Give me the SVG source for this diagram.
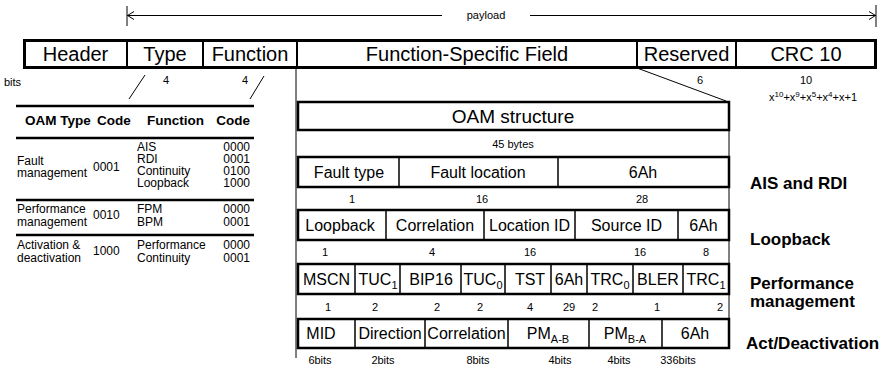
<svg xmlns="http://www.w3.org/2000/svg" width="894" height="366" viewBox="0 0 894 366">
<style>
text{font-family:"Liberation Sans",Arial,sans-serif;fill:#000}
.bar{font-size:20px;text-anchor:middle}
.f{font-size:16px;text-anchor:middle}
.s{font-size:11px;text-anchor:middle}
.t{font-size:12px}
.r{text-anchor:end}
.th{font-size:13.5px;font-weight:bold}
.lbl{font-size:17px;font-weight:bold}
.box{fill:#fff;stroke:#000;stroke-width:2.5}
.dv{stroke:#000;stroke-width:1.5}
.dv2{stroke:#000;stroke-width:2}
.thin{stroke:#000;stroke-width:1;fill:none}
.tl{stroke:#000;stroke-width:2.5}
</style>
<rect width="894" height="366" fill="#fff"/>

<g id="payload">
<line class="thin" x1="127" y1="6" x2="127" y2="26"/>
<line class="thin" x1="876" y1="5" x2="876" y2="27"/>
<line class="thin" x1="127" y1="15.5" x2="442" y2="15.5"/>
<line class="thin" x1="530" y1="15.5" x2="876" y2="15.5"/>
<polyline class="thin" points="134,11.5 127.5,15.5 134,19.5"/>
<polyline class="thin" points="869,11.5 875.5,15.5 869,19.5"/>
<text class="s" x="486" y="19">payload</text>
</g>

<g id="connectors">
<line class="thin" x1="296" y1="68" x2="296" y2="358"/>
<line class="thin" x1="729" y1="101" x2="729" y2="348"/>
<line class="thin" x1="637" y1="68" x2="726" y2="101"/>
<line class="thin" x1="145" y1="75" x2="129" y2="99"/>
<line class="thin" x1="264" y1="76" x2="250" y2="99"/>
</g>

<g id="header-bar">
<rect x="24.5" y="40.5" width="851" height="27" fill="#fff" stroke="#000" stroke-width="3"/>
<line class="dv2" x1="127" y1="40" x2="127" y2="68"/>
<line class="dv2" x1="203" y1="40" x2="203" y2="68"/>
<line class="dv2" x1="297" y1="40" x2="297" y2="68"/>
<line class="dv2" x1="637" y1="40" x2="637" y2="68"/>
<line class="dv2" x1="736" y1="40" x2="736" y2="68"/>
<text class="bar" x="75.5" y="61">Header</text>
<text class="bar" x="165" y="61">Type</text>
<text class="bar" x="250" y="61">Function</text>
<text class="bar" x="467" y="61">Function-Specific Field</text>
<text class="bar" x="686.5" y="61">Reserved</text>
<text class="bar" x="806" y="61">CRC 10</text>
</g>

<g id="bit-sizes">
<text class="s" x="4" y="86" style="text-anchor:start">bits</text>
<text class="s" x="166" y="84">4</text>
<text class="s" x="245" y="84">4</text>
<text class="s" x="700" y="84">6</text>
<text class="s" x="806" y="84">10</text>
<text class="s" x="813" y="101">x<tspan dy="-4" font-size="8">10</tspan><tspan dy="4">+x</tspan><tspan dy="-4" font-size="8">9</tspan><tspan dy="4">+x</tspan><tspan dy="-4" font-size="8">5</tspan><tspan dy="4">+x</tspan><tspan dy="-4" font-size="8">4</tspan><tspan dy="4">+x+1</tspan></text>
</g>

<g id="oam-table">
<line class="tl" x1="16" y1="106" x2="254" y2="106"/>
<text class="th" x="25" y="125">OAM Type</text>
<text class="th" x="97" y="125">Code</text>
<text class="th" x="147" y="125">Function</text>
<text class="th" x="250" y="125" text-anchor="end">Code</text>
<line class="tl" x1="16" y1="138" x2="254" y2="138"/>
<text class="t" x="17" y="165">Fault</text>
<text class="t" x="17" y="177">management</text>
<text class="t" x="93" y="171">0001</text>
<text class="t" x="137" y="151">AIS</text>
<text class="t" x="137" y="163">RDI</text>
<text class="t" x="137" y="175">Continuity</text>
<text class="t" x="137" y="187">Loopback</text>
<text class="t r" x="250" y="151">0000</text>
<text class="t r" x="250" y="163">0001</text>
<text class="t r" x="250" y="175">0100</text>
<text class="t r" x="250" y="187">1000</text>
<line class="tl" x1="16" y1="200" x2="254" y2="200"/>
<text class="t" x="17" y="213">Performance</text>
<text class="t" x="17" y="226">management</text>
<text class="t" x="93" y="219">0010</text>
<text class="t" x="137" y="213">FPM</text>
<text class="t" x="137" y="226">BPM</text>
<text class="t r" x="250" y="213">0000</text>
<text class="t r" x="250" y="226">0001</text>
<line class="tl" x1="16" y1="235" x2="254" y2="235"/>
<text class="t" x="17" y="249">Activation &amp;</text>
<text class="t" x="17" y="262">deactivation</text>
<text class="t" x="93" y="255">1000</text>
<text class="t" x="137" y="249">Performance</text>
<text class="t" x="137" y="262">Continuity</text>
<text class="t r" x="250" y="249">0000</text>
<text class="t r" x="250" y="262">0001</text>
</g>

<g id="oam-structure">
<rect class="box" x="298" y="102" width="431" height="28"/>
<text x="513" y="123" font-size="19" text-anchor="middle">OAM structure</text>
<text class="s" x="513" y="147.5">45 bytes</text>
</g>

<g id="ais-rdi">
<rect class="box" x="298" y="157" width="431" height="30"/>
<line class="dv" x1="399" y1="157" x2="399" y2="187"/>
<line class="dv" x1="558" y1="157" x2="558" y2="187"/>
<text class="f" x="349" y="177.5">Fault type</text>
<text class="f" x="478" y="177.5">Fault location</text>
<text class="f" x="643" y="177.5">6Ah</text>
<text class="s" x="352" y="202.5">1</text>
<text class="s" x="482" y="202.5">16</text>
<text class="s" x="642" y="202.5">28</text>
<text class="lbl" x="750" y="189">AIS and RDI</text>
</g>

<g id="loopback">
<rect class="box" x="298" y="210" width="431" height="30"/>
<line class="dv" x1="386" y1="210" x2="386" y2="240"/>
<line class="dv" x1="484" y1="210" x2="484" y2="240"/>
<line class="dv" x1="575" y1="210" x2="575" y2="240"/>
<line class="dv" x1="678" y1="210" x2="678" y2="240"/>
<text class="f" x="340" y="230.5">Loopback</text>
<text class="f" x="435" y="230.5">Correlation</text>
<text class="f" x="529.5" y="230.5">Location ID</text>
<text class="f" x="626.5" y="230.5">Source ID</text>
<text class="f" x="703.5" y="230.5">6Ah</text>
<text class="s" x="325" y="256">1</text>
<text class="s" x="432" y="256">4</text>
<text class="s" x="530" y="256">16</text>
<text class="s" x="640" y="256">16</text>
<text class="s" x="706" y="256">8</text>
<text class="lbl" x="750" y="245">Loopback</text>
</g>

<g id="performance">
<rect class="box" x="298" y="264" width="431" height="30"/>
<line class="dv" x1="355" y1="264" x2="355" y2="294"/>
<line class="dv" x1="400" y1="264" x2="400" y2="294"/>
<line class="dv" x1="461" y1="264" x2="461" y2="294"/>
<line class="dv" x1="505" y1="264" x2="505" y2="294"/>
<line class="dv" x1="551" y1="264" x2="551" y2="294"/>
<line class="dv" x1="587" y1="264" x2="587" y2="294"/>
<line class="dv" x1="633" y1="264" x2="633" y2="294"/>
<line class="dv" x1="683" y1="264" x2="683" y2="294"/>
<text class="f" x="326.5" y="284.5">MSCN</text>
<text class="f" x="378" y="284.5">TUC<tspan dy="4" font-size="11">1</tspan></text>
<text class="f" x="431" y="284.5">BIP16</text>
<text class="f" x="483" y="284.5">TUC<tspan dy="4" font-size="11">0</tspan></text>
<text class="f" x="530" y="284.5">TST</text>
<text class="f" x="569" y="284.5">6Ah</text>
<text class="f" x="610" y="284.5">TRC<tspan dy="4" font-size="11">0</tspan></text>
<text class="f" x="658" y="284.5">BLER</text>
<text class="f" x="706" y="284.5">TRC<tspan dy="4" font-size="11">1</tspan></text>
<text class="s" x="328" y="310.5">1</text>
<text class="s" x="375" y="310.5">2</text>
<text class="s" x="437" y="310.5">2</text>
<text class="s" x="480" y="310.5">2</text>
<text class="s" x="530" y="310.5">4</text>
<text class="s" x="569" y="310.5">29</text>
<text class="s" x="595" y="310.5">2</text>
<text class="s" x="657" y="310.5">1</text>
<text class="s" x="720" y="310.5">2</text>
<text class="lbl" x="750" y="289">Performance</text>
<text class="lbl" x="750" y="307">management</text>
</g>

<g id="activation">
<rect class="box" x="298" y="319" width="431" height="29"/>
<line class="dv" x1="355" y1="319" x2="355" y2="348"/>
<line class="dv" x1="425" y1="319" x2="425" y2="348"/>
<line class="dv" x1="508" y1="319" x2="508" y2="348"/>
<line class="dv" x1="589" y1="319" x2="589" y2="348"/>
<line class="dv" x1="662" y1="319" x2="662" y2="348"/>
<text class="f" x="321" y="339">MID</text>
<text class="f" x="390" y="339">Direction</text>
<text class="f" x="466.5" y="339">Correlation</text>
<text class="f" x="548" y="339">PM<tspan dy="4" font-size="11">A-B</tspan></text>
<text class="f" x="625" y="339">PM<tspan dy="4" font-size="11">B-A</tspan></text>
<text class="f" x="695" y="339">6Ah</text>
<text class="s" x="320" y="364">6bits</text>
<text class="s" x="383" y="364">2bits</text>
<text class="s" x="478" y="364">8bits</text>
<text class="s" x="560" y="364">4bits</text>
<text class="s" x="619" y="364">4bits</text>
<text class="s" x="678" y="364">336bits</text>
<text class="lbl" x="746" y="349">Act/Deactivation</text>
</g>
</svg>
